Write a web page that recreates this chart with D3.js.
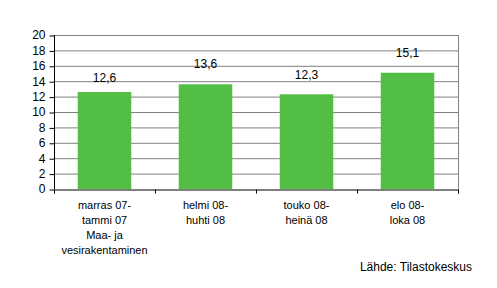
<!DOCTYPE html>
<html><head><meta charset="utf-8">
<script src="https://cdn.jsdelivr.net/npm/d3@7"></script>
<style>body{margin:0;background:#fff}svg{display:block}text{font-family:"Liberation Sans",Arial,sans-serif;fill:#000}</style>
</head><body>
<script>
const categories = [["marras 07-","tammi 07","Maa- ja","vesirakentaminen"],["helmi 08-","huhti 08"],["touko 08-","heinä 08"],["elo 08-","loka 08"]];
const values = [12.6, 13.6, 12.3, 15.1];
const valueLabels = ["12,6","13,6","12,3","15,1"];
const yTicks = [0,2,4,6,8,10,12,14,16,18,20];
const source = "Lähde: Tilastokeskus";

const W=497,H=288;
const m={l:54,r:39,t:35,b:99};
const labelGap=[9.5,16,15,16];
const svg=d3.select("body").append("svg").attr("width",W).attr("height",H);
const x=d3.scaleBand().domain(d3.range(values.length)).range([m.l,W-m.r]).paddingInner(0.47).paddingOuter(0.235);
const xb=d3.scaleLinear().domain([0,values.length]).range([m.l,W-m.r]);
const y=d3.scaleLinear().domain([0,20]).range([H-m.b,m.t]);

// gridlines
svg.append("g").selectAll("line").data(yTicks.filter(d=>d>0)).join("line")
 .attr("x1",m.l).attr("x2",W-m.r).attr("y1",d=>y(d)+0.5).attr("y2",d=>y(d)+0.5)
 .attr("stroke","#808080").attr("stroke-width",1);
// right border
svg.append("line").attr("x1",W-m.r+0.5).attr("x2",W-m.r+0.5).attr("y1",m.t).attr("y2",H-m.b).attr("stroke","#808080");

// bars
svg.append("g").selectAll("rect").data(values).join("rect")
 .attr("x",(d,i)=>x(i)).attr("width",x.bandwidth())
 .attr("y",d=>y(d)).attr("height",d=>y(0)-y(d)).attr("fill","#52BF44");

// value labels
svg.append("g").selectAll("text").data(values).join("text")
 .attr("x",(d,i)=>x(i)+x.bandwidth()/2).attr("y",(d,i)=>y(d)-labelGap[i])
 .attr("text-anchor","middle").style("font-size","12px").text((d,i)=>valueLabels[i]);

// y axis
const ya=svg.append("g").attr("transform",`translate(${m.l+0.5},0)`)
 .call(d3.axisLeft(y).tickValues(yTicks).tickSize(5).tickPadding(4));
ya.select(".domain").attr("stroke","#000").attr("d",`M0,${m.t}V${H-m.b}`);
ya.selectAll(".tick line").attr("stroke","#000").attr("transform","translate(0,0.5)");
ya.selectAll("text").style("font-size","12px").style("font-family","'Liberation Sans',Arial,sans-serif");

// x axis
const xa=svg.append("g").attr("transform",`translate(0,${H-m.b+0.5})`)
 .call(d3.axisBottom(xb).tickValues(d3.range(values.length+1)).tickSize(4).tickFormat(""));
xa.select(".domain").attr("stroke","#000");
xa.selectAll(".tick line").attr("stroke","#000");

// category labels
const cl=svg.append("g").selectAll("text").data(categories).join("text")
 .attr("text-anchor","middle").style("font-size","11px")
 .attr("transform",(d,i)=>`translate(${x(i)+x.bandwidth()/2},${H-m.b+20})`);
cl.selectAll("tspan").data(d=>d).join("tspan").attr("x",0).attr("dy",(d,j)=>j?15:0).text(d=>d);

svg.append("text").attr("x",472).attr("y",271).attr("text-anchor","end").style("font-size","12px").text(source);
</script>
</body></html>
